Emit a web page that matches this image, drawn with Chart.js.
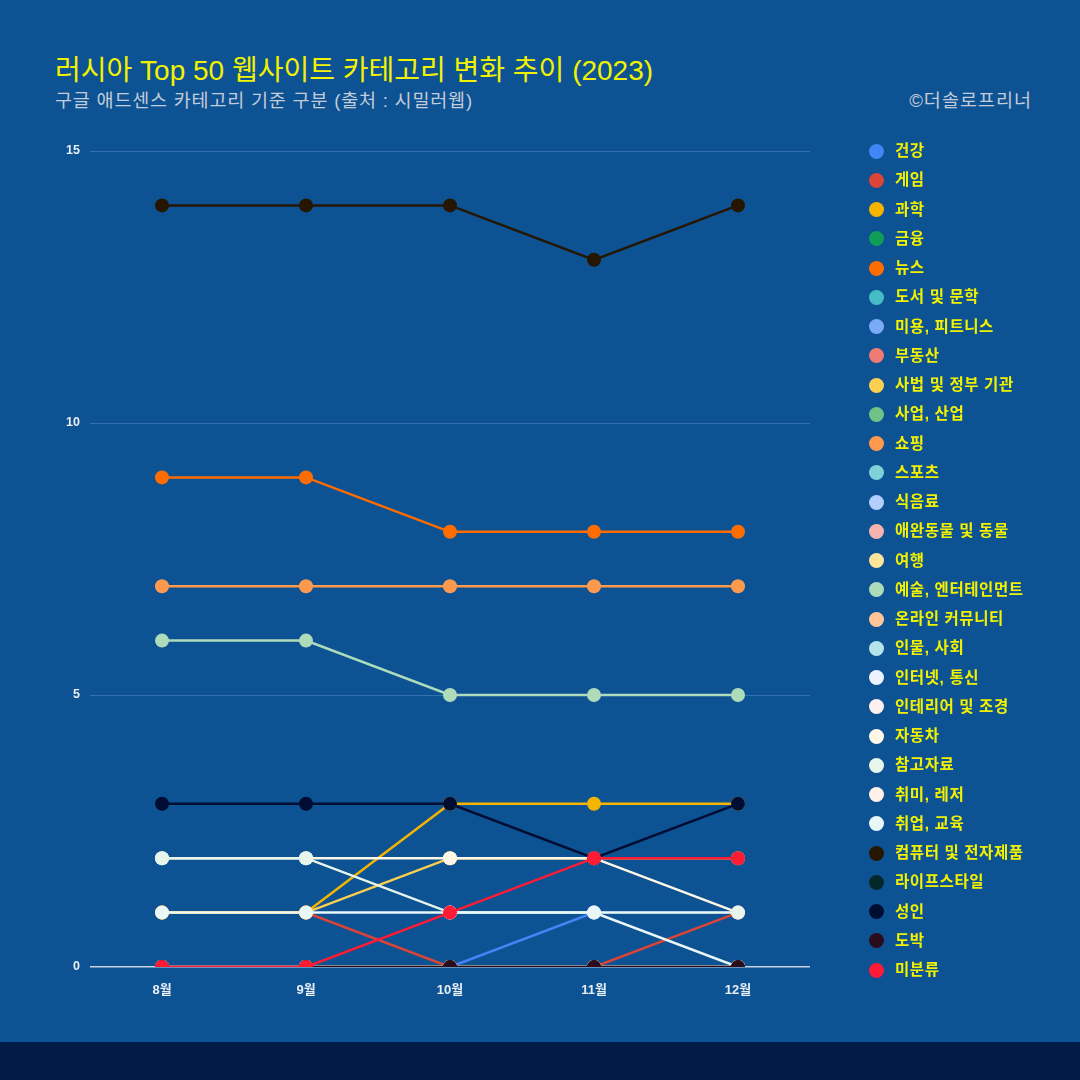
<!DOCTYPE html>
<html lang="ko">
<head>
<meta charset="utf-8">
<script src="https://cdn.jsdelivr.net/npm/chart.js@4"></script>
<style>
  body { margin: 0; background: #0d5293; }
  #wrap { position: relative; width: 1080px; height: 1080px; background: #0d5293; overflow: hidden; font-family: "Liberation Sans", Arial, "Noto Sans CJK KR", sans-serif; }
  #title { position: absolute; left: 55px; top: 48px; font-size: 28px; color: #f2f200; white-space: nowrap; }
  #subtitle { position: absolute; left: 55px; top: 86px; font-size: 18.5px; letter-spacing: 0.8px; color: #c3ccd8; white-space: nowrap; }
  #credit { position: absolute; right: 48px; top: 86px; font-size: 18.5px; letter-spacing: 1px; color: #c3ccd8; white-space: nowrap; }
  #chart-box { position: absolute; left: 0; top: 0; width: 1080px; height: 1042px; }
  #legend { position: absolute; left: 869px; top: 137px; margin: 0; padding: 0; list-style: none; }
  #legend li { height: 29.25px; line-height: 28px; display: flex; align-items: center; font-size: 15.5px; letter-spacing: 0.6px; font-weight: bold; color: #f2f200; white-space: nowrap; }
  #legend li { align-items: flex-start; }
  #legend span { display: inline-block; width: 15px; height: 15px; border-radius: 50%; margin-right: 11px; margin-top: 6.5px; }
  #band { position: absolute; left: 0; top: 1042px; width: 1080px; height: 38px; background: #001c47; }
</style>
</head>
<body>
<div id="wrap">
  <div id="title">러시아 Top 50 웹사이트 카테고리 변화 추이 (2023)</div>
  <div id="subtitle">구글 애드센스 카테고리 기준 구분 (출처 : 시밀러웹)</div>
  <div id="credit">©더솔로프리너</div>
  <div id="chart-box"><canvas id="rank-chart" width="1080" height="1042"></canvas></div>
  <ul id="legend"></ul>
  <div id="band"></div>
</div>
<script>
const months = ["8월", "9월", "10월", "11월", "12월"];
const yTicks = [0, 5, 10, 15];

const categories = [
  "건강", "게임", "과학", "금융", "뉴스", "도서 및 문학", "미용, 피트니스", "부동산",
  "사법 및 정부 기관", "사업, 산업", "쇼핑", "스포츠", "식음료", "애완동물 및 동물", "여행",
  "예술, 엔터테인먼트", "온라인 커뮤니티", "인물, 사회", "인터넷, 통신", "인테리어 및 조경",
  "자동차", "참고자료", "취미, 레저", "취업, 교육", "컴퓨터 및 전자제품", "라이프스타일",
  "성인", "도박", "미분류"
];

const colors = [
  "#4285f4", "#db4437", "#f4b400", "#0f9d58", "#ff6d01", "#46bdc6", "#7baaf7", "#f07b72",
  "#fcd04f", "#71c287", "#ff994d", "#7ed1d7", "#b3cefb", "#f7b4ae", "#fde49b",
  "#aedcba", "#ffc599", "#b5e5e8", "#ecf3fe", "#fdf0ef",
  "#fff8e6", "#e7f5eb", "#fff0e8", "#e9f7f8", "#261600", "#04282a",
  "#000d33", "#2a0c1c", "#ff1a35"
];

// values per category, 8월 ~ 12월
const health     = [0, 0, 0, 1, 1];
const games      = [1, 1, 0, 0, 1];
const science    = [1, 1, 3, 3, 3];
const finance    = [0, 0, 0, 0, 0];
const news       = [9, 9, 8, 8, 8];
const books      = [0, 0, 0, 0, 0];
const beauty     = [0, 0, 0, 0, 0];
const realEstate = [0, 0, 0, 0, 0];
const lawGov     = [1, 1, 2, 2, 2];
const business   = [0, 0, 0, 0, 0];
const shopping   = [7, 7, 7, 7, 7];
const sports     = [0, 0, 0, 0, 0];
const food       = [0, 0, 0, 0, 0];
const pets       = [0, 0, 0, 0, 0];
const travel     = [0, 0, 0, 0, 0];
const arts       = [6, 6, 5, 5, 5];
const community  = [0, 0, 0, 0, 0];
const people     = [0, 0, 0, 0, 0];
const internet   = [0, 0, 0, 0, 0];
const homeGarden = [0, 0, 0, 0, 0];
const autos      = [2, 2, 2, 2, 1];
const reference  = [2, 2, 1, 1, 1];
const hobbies    = [0, 0, 0, 0, 0];
const jobsEdu    = [1, 1, 1, 1, 0];
const computers  = [14, 14, 14, 13, 14];
const lifestyle  = [0, 0, 0, 0, 0];
const adult      = [3, 3, 3, 2, 3];
const gambling   = [0, 0, 0, 0, 0];
const unknown    = [0, 0, 1, 2, 2];

const seriesValues = [
  health, games, science, finance, news, books, beauty, realEstate, lawGov, business,
  shopping, sports, food, pets, travel, arts, community, people, internet, homeGarden,
  autos, reference, hobbies, jobsEdu, computers, lifestyle, adult, gambling, unknown
];

// legend
const legend = document.getElementById("legend");
categories.forEach((name, i) => {
  const li = document.createElement("li");
  const dot = document.createElement("span");
  dot.style.background = colors[i];
  li.appendChild(dot);
  li.appendChild(document.createTextNode(name));
  legend.appendChild(li);
});

// later series drawn on top
const datasets = categories.map((name, i) => ({
  label: name,
  data: seriesValues[i],
  borderColor: colors[i],
  backgroundColor: colors[i],
  borderWidth: 2.5,
  pointRadius: 7,
  pointHoverRadius: 7,
  pointBorderWidth: 0,
  tension: 0,
  order: categories.length - i
}));

new Chart(document.getElementById("rank-chart"), {
  type: "line",
  data: { labels: months, datasets: datasets },
  options: {
    responsive: false,
    animation: false,
    layout: { padding: { left: 50, right: 270, top: 151, bottom: 35 } },
    plugins: { legend: { display: false }, tooltip: { enabled: false } },
    scales: {
      x: {
        offset: true,
        grid: { display: false },
        border: { display: false },
        ticks: { color: "#e8eef6", font: { size: 13, weight: "bold", family: "'Liberation Sans', 'Noto Sans CJK KR'" }, padding: 8 },
        afterFit: (scale) => { scale.height = 40; }
      },
      y: {
        min: 0,
        max: 15,
        afterBuildTicks: (scale) => { scale.ticks = yTicks.map(v => ({ value: v })); },
        grid: {
          drawTicks: false,
          color: (ctx) => ctx.tick && ctx.tick.value === 0 ? "#c9d4e2" : "#3572ad",
          lineWidth: (ctx) => ctx.tick && ctx.tick.value === 0 ? 1.5 : 1
        },
        border: { display: false },
        ticks: { color: "#e8eef6", font: { size: 12.5, weight: "bold", family: "'Liberation Sans', 'Noto Sans CJK KR'" }, padding: 10 },
        afterFit: (scale) => { scale.width = 40; }
      }
    }
  }
});
</script>
</body>
</html>
